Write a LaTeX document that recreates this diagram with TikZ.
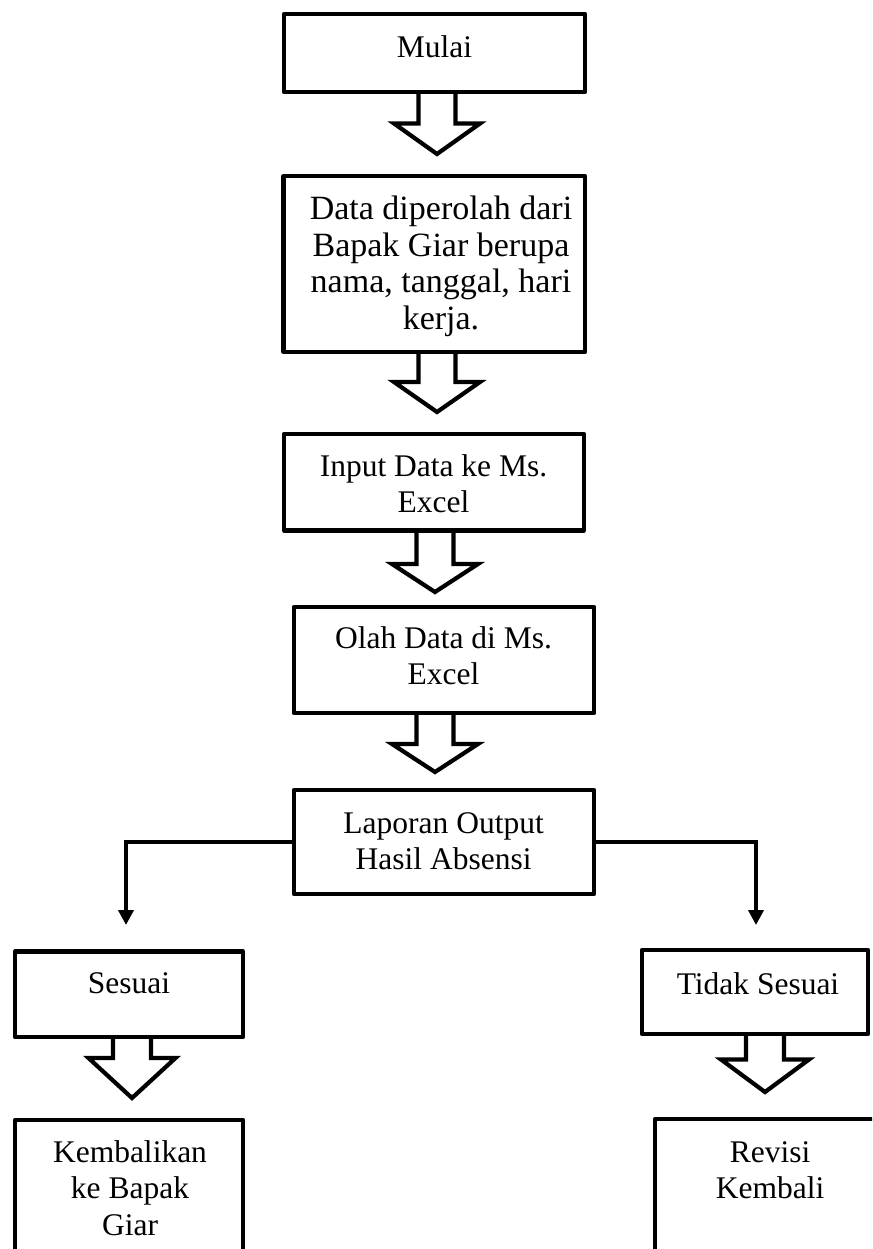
\documentclass[tikz,border=0pt]{standalone}
\usepackage{fontspec}
\setmainfont{Liberation Serif}
\usetikzlibrary{arrows.meta,calc}
\begin{document}
\begin{tikzpicture}[x=1pt,y=-1pt,
  box/.style={draw, line width=4.2pt, line join=round, inner sep=0pt, outer sep=0pt, anchor=north west},
  txt/.style={align=center, inner sep=0pt, anchor=north, font=\fontsize{31.5}{36.5}\selectfont},
  blk/.style={draw, line width=4.2pt, line join=miter},
  conn/.style={draw, line width=4pt, -{Triangle[width=15pt,length=15pt]}}]
\useasboundingbox (0,0) rectangle (872,1249);
\clip (0,0) rectangle (872,1249);
% boxes
\node[box, minimum width=301pt, minimum height=78pt] (m) at (284,14) {};
\node[box, minimum width=301.5pt, minimum height=176pt] (d) at (283.5,176) {};
\node[box, minimum width=300pt, minimum height=96.5pt] (i) at (284,434) {};
\node[box, minimum width=300pt, minimum height=106pt] (o) at (294,607) {};
\node[box, minimum width=300pt, minimum height=104pt] (l) at (294,790) {};
\node[box, minimum width=228pt, minimum height=85.5pt] (s) at (15,951.5) {};
\node[box, minimum width=228pt, minimum height=160pt] (k) at (15,1120) {};
\node[box, minimum width=226pt, minimum height=84pt] (t) at (642,950) {};
\node[box, minimum width=265pt, minimum height=161pt] (r) at (655,1119) {};
% texts
\node[txt] (mt) at (434.5,35.5) {Mulai};
\node[txt, font=\fontsize{34}{36.5}\selectfont] (dt) at (441,196) {Data diperolah dari\\Bapak Giar berupa\\nama, tanggal, hari\\kerja.};
\node[txt] (it) at (433.5,454) {Input Data ke Ms.\\Excel};
\node[txt] (ot) at (443.5,626) {Olah Data di Ms.\\Excel};
\node[txt] (lt) at (443.6,812) {Laporan Output\\Hasil Absensi};
\node[txt] (st) at (129,972) {Sesuai};
\node[txt] (tt) at (758,972) {Tidak Sesuai};
\node[txt] (kt) at (130,1140) {Kembalikan\\ke Bapak\\Giar};
\node[txt] (rt) at (770,1141) {Revisi\\Kembali};
% block arrows
\draw[blk] (m.south -| 418.5,0) -- (418.5,123.5) -- (394,123.5) -- (437,154) -- (480,123.5) -- (455.5,123.5) -- (m.south -| 455.5,0);
\draw[blk] (d.south -| 418.5,0) -- (418.5,382) -- (394,382) -- (437,412) -- (480,382) -- (455.5,382) -- (d.south -| 455.5,0);
\draw[blk] (i.south -| 416.5,0) -- (416.5,564) -- (392,564) -- (435,592) -- (478,564) -- (453.5,564) -- (i.south -| 453.5,0);
\draw[blk] (o.south -| 416.5,0) -- (416.5,744) -- (392,744) -- (435,772) -- (478,744) -- (453.5,744) -- (o.south -| 453.5,0);
\draw[blk] (s.south -| 113,0) -- (113,1058) -- (88.5,1058) -- (132,1098) -- (175.5,1058) -- (151,1058) -- (s.south -| 151,0);
\draw[blk] (t.south -| 746,0) -- (746,1059.5) -- (721,1059.5) -- (765,1092) -- (809,1059.5) -- (784,1059.5) -- (t.south -| 784,0);
% connectors
\coordinate (sl) at (126,925);
\coordinate (sr) at (756,925);
\draw[conn] (l.west) -| (sl);
\draw[conn] (l.east) -| (sr);
\end{tikzpicture}
\end{document}
